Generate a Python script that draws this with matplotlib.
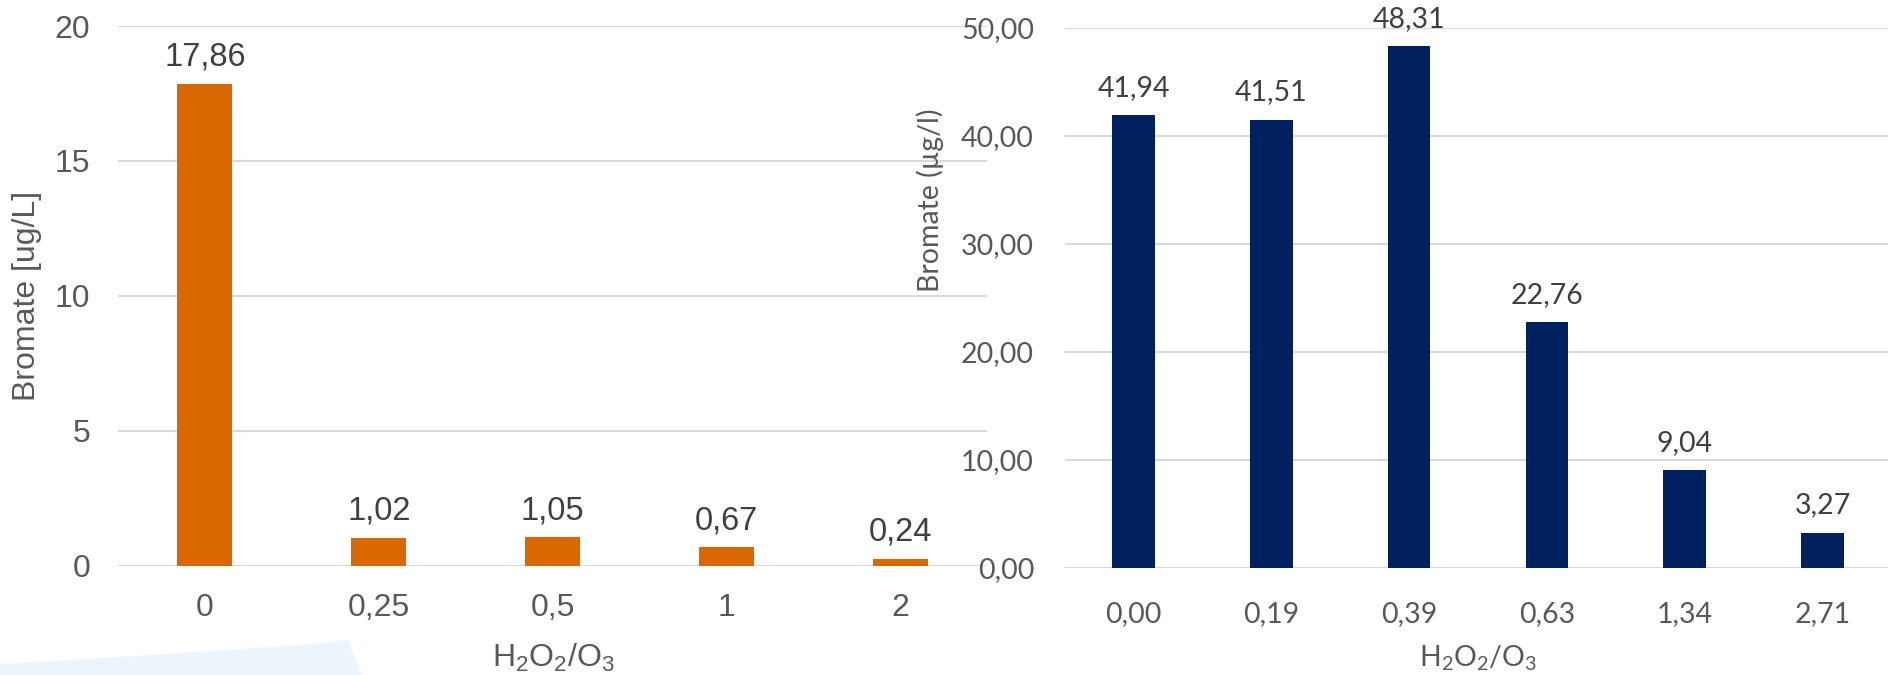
import matplotlib
matplotlib.use("Agg")
import matplotlib.pyplot as plt
from matplotlib.patches import Polygon

# Data
left_cats = ["0", "0,25", "0,5", "1", "2"]
left_vals = [17.86, 1.02, 1.05, 0.67, 0.24]
right_cats = ["0,00", "0,19", "0,39", "0,63", "1,34", "2,71"]
right_vals = [41.94, 41.51, 48.31, 22.76, 9.04, 3.27]

W, H = 1888, 675
fig = plt.figure(figsize=(W / 100, H / 100), dpi=100)
fig.patch.set_facecolor("white")

# faint blue swoosh in the bottom-left corner of the slide
pts = [(0, 664), (100, 658), (200, 652), (300, 645), (348, 640), (362, 675), (0, 675)]
fig.patches.append(Polygon([(x / W, 1 - y / H) for x, y in pts], closed=True,
                           transform=fig.transFigure, facecolor="#EDF5FC",
                           edgecolor="none", zorder=0))

grid_c = "#D9D9D9"
tick_c = "#595959"
lab_c = "#404040"


def style(ax, font, size, pad_x, pad_y):
    for s in ax.spines.values():
        s.set_visible(False)
    ax.set_facecolor("none")
    ax.grid(axis="y", color=grid_c, linewidth=1.5)
    ax.set_axisbelow(True)
    ax.tick_params(length=0, labelsize=size, labelcolor=tick_c)
    ax.tick_params(axis="x", pad=pad_x)
    ax.tick_params(axis="y", pad=pad_y)
    for t in ax.get_xticklabels() + ax.get_yticklabels():
        t.set_fontfamily(font)


# Left chart
ax1 = fig.add_axes([118 / W, 109.5 / H, 869.5 / W, 539.5 / H])
x1 = range(len(left_vals))
ax1.bar(x1, left_vals, width=0.316, color="#D96800", zorder=2)
ax1.set_xlim(-0.5, len(left_vals) - 0.5)
ax1.set_ylim(0, 20)
ax1.set_yticks([0, 5, 10, 15, 20])
ax1.set_xticks(list(x1))
ax1.set_xticklabels(left_cats)
style(ax1, "Liberation Sans", 23, 20, 20)
for i, v in enumerate(left_vals):
    ax1.annotate(f"{v:.2f}".replace(".", ","), (i, v), xytext=(0, 13),
                 textcoords="offset points", ha="center", va="baseline",
                 fontsize=23.5, color=lab_c, family="Liberation Sans")

fig.text(27 / W, 1 - 296 / H, "Bromate [ug/L]", rotation=90, ha="center",
         va="center", fontsize=23, color=tick_c, family="Liberation Sans")
fig.text(553 / W, 1 - 658 / H, r"$\mathregular{H_2O_2/O_3}$", ha="center",
         va="center", fontsize=23, color=tick_c, family="Liberation Sans")

# Right chart
ax2 = fig.add_axes([1064.6 / W, 107 / H, 826.8 / W, 540 / H])
x2 = range(len(right_vals))
ax2.bar(x2, right_vals, width=0.31, color="#002060", zorder=2)
ax2.set_xlim(-0.5, len(right_vals) - 0.5)
ax2.set_ylim(0, 50)
ax2.set_yticks([0, 10, 20, 30, 40, 50])
ax2.set_yticklabels([f"{t:.2f}".replace(".", ",") for t in [0, 10, 20, 30, 40, 50]])
ax2.set_xticks(list(x2))
ax2.set_xticklabels(right_cats)
style(ax2, "Lato", 20.5, 24, 22)
for i, v in enumerate(right_vals):
    ax2.annotate(f"{v:.2f}".replace(".", ","), (i, v), xytext=(0, 14),
                 textcoords="offset points", ha="center", va="baseline",
                 fontsize=20.5, color=lab_c, family="Lato")

fig.text(930 / W, 1 - 200 / H, "Bromate (µg/l)", rotation=90, ha="center",
         va="center", fontsize=20.5, color=tick_c, family="Lato")
fig.text(1478 / W, 1 - 658 / H, r"$\mathregular{H_2O_2/O_3}$", ha="center",
         va="center", fontsize=20.5, color=tick_c, family="Lato")

fig.savefig("out.png", dpi=100)
